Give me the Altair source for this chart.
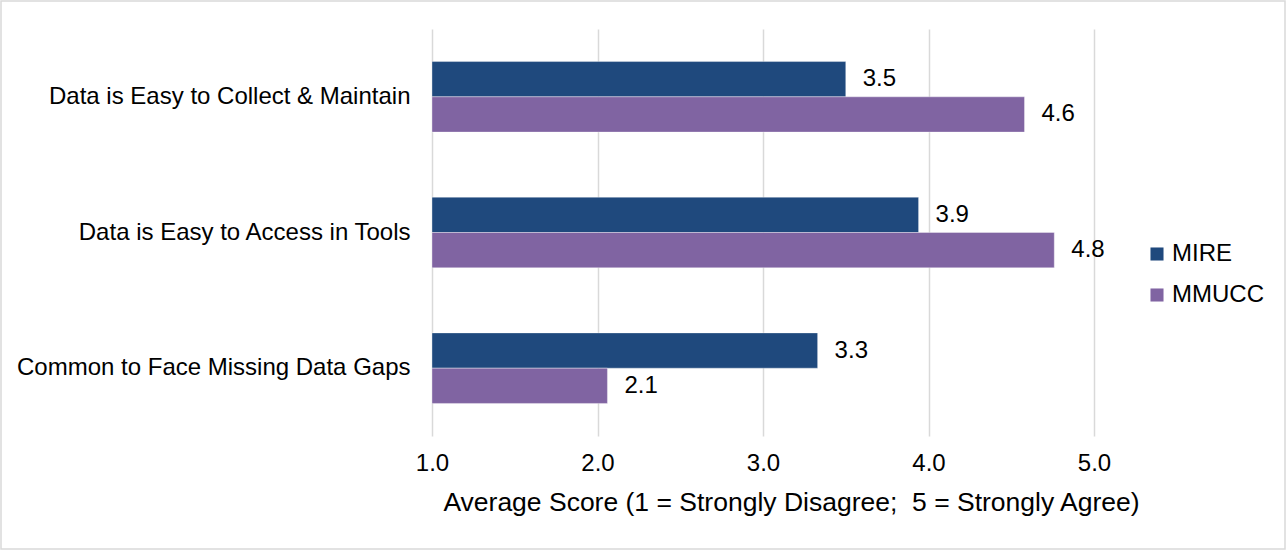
import altair as alt
import pandas as pd

categories = [
    "Data is Easy to Collect & Maintain",
    "Data is Easy to Access in Tools",
    "Common to Face Missing Data Gaps",
]
series = ["MIRE", "MMUCC"]
mire_scores = [3.50, 3.94, 3.33]
mmucc_scores = [4.58, 4.76, 2.06]
tick_values = [1, 2, 3, 4, 5]
colors = ["#1F497D", "#8064A2"]

rows = []
for cat, a, b in zip(categories, mire_scores, mmucc_scores):
    rows.append({"item": cat, "source": "MIRE", "score": a})
    rows.append({"item": cat, "source": "MMUCC", "score": b})
df = pd.DataFrame(rows)

FONT = "Liberation Sans"
W, H = 662, 407
LEFT, TOP = 432, 29
TOTAL_W, TOTAL_H = 1286, 550

y_enc = alt.Y(
    "item:N",
    sort=categories,
    title=None,
    scale=alt.Scale(paddingInner=0.48, paddingOuter=0.24),
    axis=alt.Axis(ticks=False, domain=False, labelPadding=22, labelFontSize=24,
                  labelColor="#000000", labelFont=FONT, labelLimit=430),
)
x_enc = alt.X(
    "score:Q",
    scale=alt.Scale(domain=[1, 5], nice=False, zero=False),
    title="Average Score (1 = Strongly Disagree;\u00a0 5 = Strongly Agree)",
    axis=alt.Axis(values=tick_values, format=".1f", ticks=False, domain=False,
                  grid=True, gridColor="#D9D9D9", gridWidth=1.5,
                  labelFontSize=24, labelColor="#000000", labelFont=FONT,
                  labelFlush=False, labelPadding=15,
                  titleFontSize=26.5, titleFont=FONT, titleX=359,
                  titleFontWeight="normal", titleColor="#000000", titlePadding=14),
)
color_enc = alt.Color(
    "source:N",
    scale=alt.Scale(domain=series, range=colors),
    legend=alt.Legend(title=None, orient="none", legendX=713, legendY=213,
                      symbolType="square", symbolSize=170, symbolStrokeWidth=0,
                      labelFontSize=24, labelFont=FONT, labelColor="#000000",
                      rowPadding=17, labelOffset=3),
)

base = alt.Chart(df)

bars = base.mark_bar(stroke="#FFFFFF", strokeOpacity=0.35, strokeWidth=1).encode(
    y=y_enc,
    yOffset=alt.YOffset("source:N", sort=series),
    x=x_enc,
    x2=alt.datum(1),
    color=color_enc,
)

labels = base.mark_text(align="left", baseline="middle", dx=17, fontSize=24,
                        font=FONT, color="#000000").encode(
    y=alt.Y("item:N", sort=categories),
    yOffset=alt.YOffset("source:N", sort=series),
    x="score:Q",
    text=alt.Text("score:Q", format=".1f"),
)

# light frame around the whole figure
frame = alt.Chart(pd.DataFrame({"k": [0]})).mark_rect(
    fill=None, stroke="#D9D9D9", strokeWidth=1.5
).encode(
    x=alt.value(-LEFT + 1),
    x2=alt.value(TOTAL_W - LEFT - 1),
    y=alt.value(-TOP + 1),
    y2=alt.value(TOTAL_H - TOP - 1),
)

chart = alt.layer(bars, labels, frame).properties(
    width=W,
    height=H,
    autosize=alt.AutoSizeParams(type="none"),
    padding={"left": LEFT, "top": TOP, "right": TOTAL_W - LEFT - W,
             "bottom": TOTAL_H - TOP - H},
    background="#FFFFFF",
).configure_view(stroke=None)

chart.save("out.html", embed_options={"renderer": "svg", "actions": False})
